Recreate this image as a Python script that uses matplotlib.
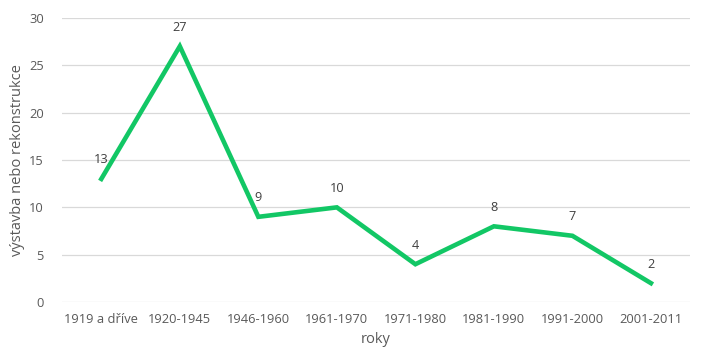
import matplotlib.pyplot as plt
import numpy as np

plt.rcParams['font.family'] = ['Open Sans', 'DejaVu Sans']

categories = ["1919 a dříve", "1920-1945", "1946-1960", "1961-1970",
              "1971-1980", "1981-1990", "1991-2000", "2001-2011"]
values = [13, 27, 9, 10, 4, 8, 7, 2]

text_color = "#595959"

fig = plt.figure(figsize=(7.05, 3.64), dpi=100)
ax = fig.add_axes([0.088, 0.170, 0.891, 0.781])

x = np.arange(len(categories))
ax.plot(x, values, color="#12C765", linewidth=3.3, solid_joinstyle="miter", zorder=3)

# popisky hodnot
for xi, v in zip(x, values):
    ax.annotate(str(v), (xi, v), xytext=(0, 9), textcoords="offset points",
                ha="center", va="bottom", fontsize=9.2, color="#404040")

ax.set_xlim(-0.5, len(categories) - 0.5)
ax.set_ylim(0, 30)
ax.set_yticks(range(0, 31, 5))
ax.set_xticks(x)
ax.set_xticklabels(categories)
ax.grid(axis="y", color="#D9D9D9", linewidth=0.9)
ax.set_axisbelow(True)
for s in ax.spines.values():
    s.set_visible(False)
ax.tick_params(length=0, labelsize=9.3, colors=text_color, pad=8)
ax.tick_params(axis="y", pad=13)
ax.set_xlabel("roky", fontsize=10.5, color=text_color, labelpad=4)
ax.set_ylabel("výstavba nebo rekonstrukce", fontsize=10.5, color=text_color, labelpad=3)

fig.savefig("out.png", dpi=100)
